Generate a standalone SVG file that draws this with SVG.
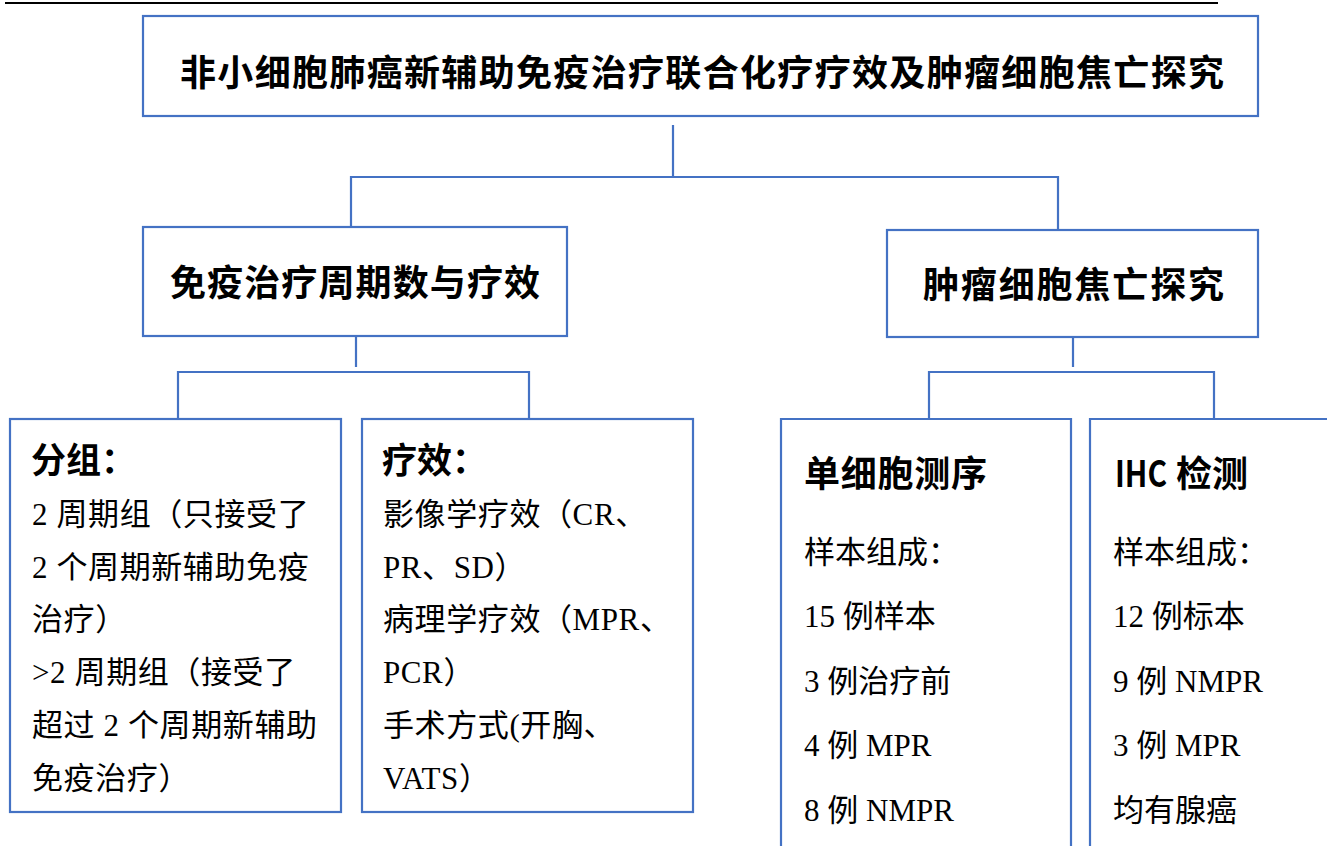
<svg xmlns="http://www.w3.org/2000/svg" width="1327" height="846" viewBox="0 0 1327 846">
<style>
.box{fill:#fff;stroke:#4472C4;stroke-width:2.2}
.con{fill:none;stroke:#4472C4;stroke-width:2.2}
.h{font-family:"Noto Sans CJK SC","Liberation Sans",sans-serif;font-weight:bold;fill:#000}
.b{font-family:"Liberation Serif","Noto Sans CJK SC",serif;font-size:31px;fill:#000}
.ls{letter-spacing:0.6px}
</style>
<rect width="1327" height="846" fill="#fff"/>
<line x1="5" y1="3" x2="1218" y2="3" stroke="#000" stroke-width="2.2"/>
<g id="connectors">
<path class="con" d="M673 125V177M351 177H1058M351 176V228M1058 176V230"/>
<path class="con" d="M356 337V367M178 372H529M178 371V419M529 371V419"/>
<path class="con" d="M1073 338V367M929 372H1214M929 371V419M1214 371V419"/>
</g>
<g id="title">
<rect class="box" x="143" y="16" width="1115" height="100"/>
<text class="h" x="180" y="86" font-size="36" textLength="1044" lengthAdjust="spacing">非小细胞肺癌新辅助免疫治疗联合化疗疗效及肿瘤细胞焦亡探究</text>
</g>
<g id="node-cycles">
<rect class="box" x="143" y="227" width="424" height="109"/>
<text class="h" x="170" y="296" font-size="36" textLength="370" lengthAdjust="spacing">免疫治疗周期数与疗效</text>
</g>
<g id="node-pyroptosis">
<rect class="box" x="887" y="230" width="371" height="107"/>
<text class="h" x="923" y="298" font-size="36" textLength="301" lengthAdjust="spacing">肿瘤细胞焦亡探究</text>
</g>
<g id="node-groups">
<rect class="box" x="10" y="419" width="331" height="393"/>
<text class="h" x="31" y="473" font-size="35">分组：</text>
<text class="b ls" x="32" y="525">2 周期组（只接受了</text>
<text class="b ls" x="32" y="578">2 个周期新辅助免疫</text>
<text class="b ls" x="32" y="630">治疗）</text>
<text class="b ls" x="32" y="683">&gt;2 周期组（接受了</text>
<text class="b ls" x="32" y="736">超过 2 个周期新辅助</text>
<text class="b ls" x="32" y="789">免疫治疗）</text>
</g>
<g id="node-efficacy">
<rect class="box" x="362" y="419" width="331" height="393"/>
<text class="h" x="382" y="473" font-size="35">疗效：</text>
<text class="b ls" x="383" y="525">影像学疗效（CR、</text>
<text class="b ls" x="383" y="578">PR、SD）</text>
<text class="b ls" x="383" y="630">病理学疗效（MPR、</text>
<text class="b ls" x="383" y="683">PCR）</text>
<text class="b ls" x="383" y="736">手术方式(开胸、</text>
<text class="b ls" x="383" y="789">VATS）</text>
</g>
<g id="node-scseq">
<path class="box" d="M781 850V419H1071V850"/>
<text class="h" x="804" y="487" font-size="36" textLength="183" lengthAdjust="spacing">单细胞测序</text>
<text class="b" x="804" y="563">样本组成：</text>
<text class="b" x="804" y="627">15 例样本</text>
<text class="b" x="804" y="692">3 例治疗前</text>
<text class="b" x="804" y="756">4 例 MPR</text>
<text class="b" x="804" y="821">8 例 NMPR</text>
</g>
<g id="node-ihc">
<path class="box" d="M1090 850V419H1330"/>
<text class="h" y="487" font-size="36"><tspan x="1115" textLength="52" lengthAdjust="spacingAndGlyphs">IHC</tspan> <tspan x="1176">检测</tspan></text>
<text class="b" x="1113" y="563">样本组成：</text>
<text class="b" x="1113" y="627">12 例标本</text>
<text class="b" x="1113" y="692">9 例 NMPR</text>
<text class="b" x="1113" y="756">3 例 MPR</text>
<text class="b" x="1113" y="821">均有腺癌</text>
</g>
</svg>
